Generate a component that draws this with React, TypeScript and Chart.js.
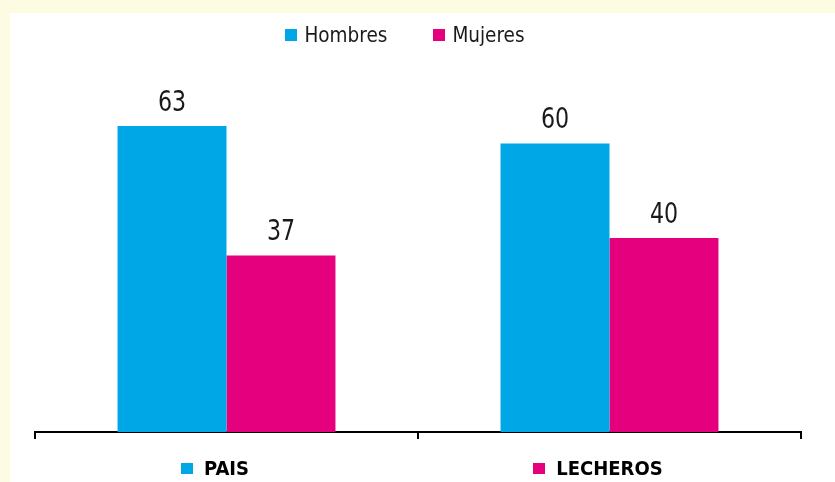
import React, { useEffect, useRef } from "react";
import { Chart, registerables } from "chart.js";

Chart.register(...registerables);

const categories = ["PAIS", "LECHEROS"];
const seriesNames = ["Hombres", "Mujeres"];
const hombres = [63.4, 59.8];
const mujeres = [36.6, 40.2];
const seriesColors = ["#00A7E7", "#E5007E"];
const categoryColors = ["#00A7E7", "#E5007E"];

const FONT = '"DejaVu Sans Condensed", "Liberation Sans Narrow", sans-serif';

const valueLabels = {
  id: "valueLabels",
  afterDatasetsDraw(chart: any) {
    const ctx = chart.ctx;
    chart.data.datasets.forEach((ds: any, di: number) => {
      const meta = chart.getDatasetMeta(di);
      meta.data.forEach((bar: any, i: number) => {
        ctx.save();
        ctx.font = `29px ${FONT}`;
        ctx.fillStyle = "#1a1a1a";
        ctx.textAlign = "center";
        ctx.textBaseline = "alphabetic";
        ctx.translate(bar.x, bar.y - 15);
        ctx.scale(0.85, 1);
        ctx.fillText(String(Math.round(ds.data[i])), 0, 0);
        ctx.restore();
      });
    });
  },
};

const catSquares = {
  id: "catSquares",
  afterDraw(chart: any) {
    const ctx = chart.ctx;
    const xs = chart.scales.x;
    ctx.save();
    ctx.font = `bold 20px ${FONT}`;
    const midY = xs.top + 7 + 19 + 12;
    categories.forEach((c, i) => {
      const cx = xs.getPixelForTick(i);
      const w = ctx.measureText(c).width;
      ctx.fillStyle = categoryColors[i];
      ctx.fillRect(Math.round(cx - w / 2 - 11 - 12), Math.round(midY - 7), 12, 11);
    });
    ctx.restore();
  },
};

export default function App() {
  const ref = useRef<HTMLCanvasElement>(null);
  useEffect(() => {
    const chart = new Chart(ref.current!, {
      type: "bar",
      data: {
        labels: categories,
        datasets: [
          { label: seriesNames[0], data: hombres, backgroundColor: seriesColors[0] },
          { label: seriesNames[1], data: mujeres, backgroundColor: seriesColors[1] },
        ],
      },
      options: {
        responsive: false,
        animation: false,
        datasets: { bar: { barPercentage: 1, categoryPercentage: 0.569 } },
        layout: { padding: { top: 33, left: 25, right: 34, bottom: 0 } },
        plugins: { legend: { display: false }, tooltip: { enabled: false } },
        scales: {
          y: { display: false, min: 0, max: 80 },
          x: {
            afterFit(scale: any) {
              scale.height = 50;
            },
            border: { display: true, color: "#000", width: 2 },
            grid: {
              offset: true,
              drawOnChartArea: false,
              drawTicks: true,
              tickLength: 7,
              color: "#000",
              lineWidth: 2,
            },
            ticks: {
              padding: 19,
              color: "#000",
              font: { family: FONT, size: 20, weight: "bold" },
            },
          },
        },
      },
      plugins: [valueLabels, catSquares],
    });
    return () => chart.destroy();
  }, []);

  return (
    <div style={{ position: "fixed", inset: 0, background: "#FEFBE3" }}>
      <div
        style={{
          position: "absolute",
          left: 10,
          top: 13,
          width: 825,
          height: 469,
          background: "#ffffff",
        }}
      >
        <div
          style={{
            position: "absolute",
            left: 0,
            top: 9,
            width: 790,
            height: 26,
            display: "flex",
            justifyContent: "center",
            alignItems: "center",
            gap: 46,
            fontFamily: FONT,
            fontSize: 20.5,
            color: "#1a1a1a",
          }}
        >
          {seriesNames.map((n, i) => (
            <div key={n} style={{ display: "flex", alignItems: "center", gap: 7 }}>
              <span
                style={{ display: "inline-block", width: 12, height: 12, background: seriesColors[i] }}
              />
              <span>{n}</span>
            </div>
          ))}
        </div>
        <canvas ref={ref} width={825} height={469} style={{ display: "block" }} />
      </div>
    </div>
  );
}
